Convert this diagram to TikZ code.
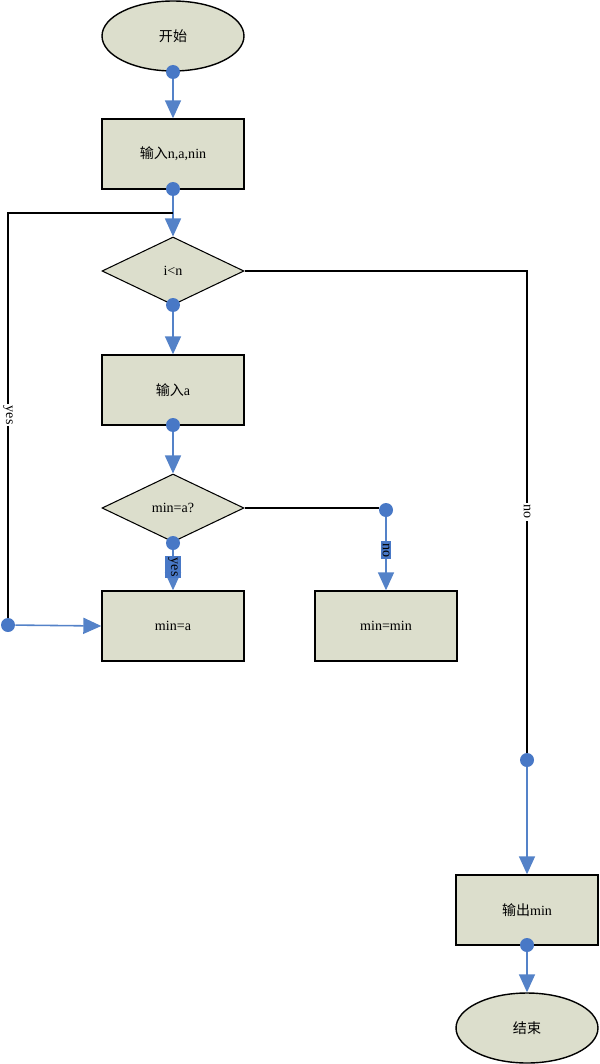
\documentclass[tikz,border=0pt]{standalone}
\usepackage{fontspec}
\setmainfont{Liberation Serif}
\newfontfamily\cjk{Noto Sans CJK SC}
\usepackage{tikz}
\usepackage{xcolor}
\usetikzlibrary{arrows.meta,positioning,shapes,shapes.geometric,calc}
\definecolor{boxfill}{RGB}{220,222,204}
\definecolor{flowblue}{RGB}{72,120,198}
\definecolor{lineblue}{RGB}{84,130,200}

\begin{document}
\begin{tikzpicture}[x=0.02cm, y=0.02cm,
  term/.style={ellipse, draw, line width=0.8pt, fill=boxfill, minimum width=2.84cm, minimum height=1.4cm, inner sep=0pt, font=\footnotesize},
  proc/.style={rectangle, draw, line width=0.8pt, fill=boxfill, minimum width=2.84cm, minimum height=1.4cm, inner sep=0pt, font=\footnotesize},
  cond/.style={diamond, draw, line width=0.6pt, fill=boxfill, aspect=2, minimum width=2.84cm, minimum height=1.36cm, inner sep=0pt, font=\footnotesize},
  dot/.style={circle, fill=flowblue, minimum size=0.28cm, inner sep=0pt},
  arr/.style={-{Triangle[width=0.32cm, length=0.36cm]}, lineblue, line width=0.9pt},
  line/.style={black, line width=0.6pt},
  lab/.style={font=\footnotesize, text=black, rotate=-90, inner sep=1pt}
]
\useasboundingbox (0,0) rectangle (599,-1064);

\node[term] (start) at (173,-36) {{\cjk 开始}};
\node[proc] (in1) at (173,-154) {{\cjk 输入}n,a,nin};
\node[cond] (c1) at (173,-271) {i<n};
\node[proc] (in2) at (173,-390) {{\cjk 输入}a};
\node[cond] (c2) at (173,-508) {min=a?};
\node[proc] (b3) at (173,-626) {min=a};
\node[proc] (b4) at (386,-626) {min=min};
\node[proc] (out) at (527,-910) {{\cjk 输出}min};
\node[term] (stop) at (527,-1028) {{\cjk 结束}};

\node[dot] (d1) at (173,-72) {};
\node[dot] (d2) at (173,-189) {};
\node[dot] (d3) at (173,-305) {};
\node[dot] (d4) at (173,-425) {};
\node[dot] (d5) at (173,-543) {};
\node[dot] (d6) at (386,-510) {};
\node[dot] (d7) at (8,-625) {};
\node[dot] (d8) at (527,-760) {};
\node[dot] (d9) at (527,-945) {};

\coordinate (j1) at (173,-213);

\draw[arr] (d1) -- (in1);
\draw[arr] (d2) -- (c1);
\draw[arr] (d3) -- (in2);
\draw[arr] (d4) -- (c2);
\draw[arr] (d5) -- (b3) node[pos=0.42, lab, fill=flowblue, minimum height=0.32cm, minimum width=0.4cm] {yes};
\draw[arr] (d9) -- (stop);

\draw[line] (d7) |- (j1) node[pos=0.25, lab, fill=white] {yes};
\draw[arr] (d7) -- (b3.west);

\draw[line] (c1.east) -| (d8) node[pos=0.75, lab, fill=white] {no};
\draw[arr] (d8) -- (out);

\draw[line] (c2.east) -- (c2.east -| d6.west);
\draw[arr] (d6) -- (b4) node[pos=0.45, lab, fill=flowblue] {no};
\end{tikzpicture}
\end{document}
